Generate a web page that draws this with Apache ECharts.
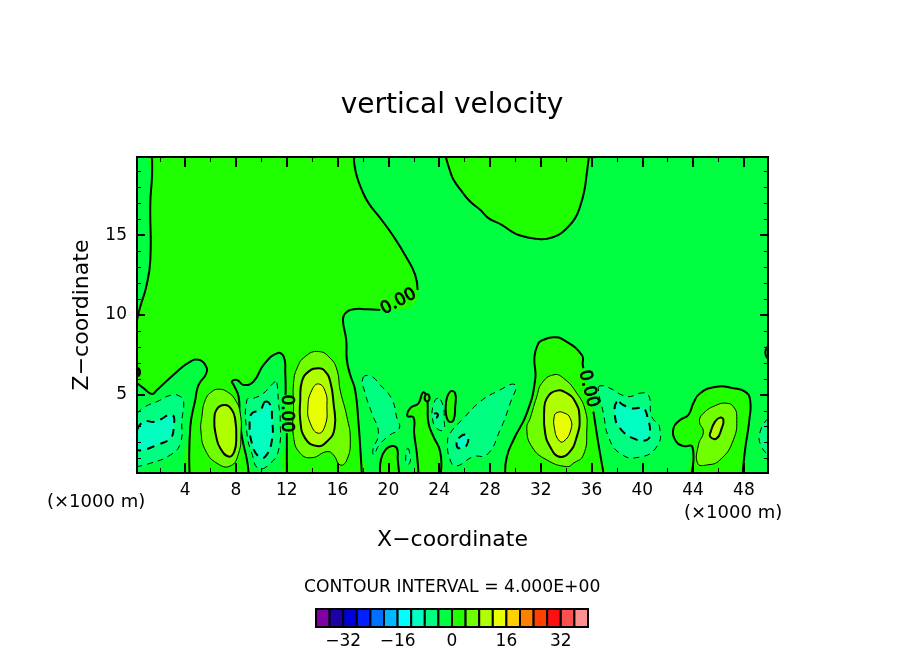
<!DOCTYPE html>
<html>
<head>
<meta charset="utf-8">
<title>vertical velocity</title>
<script src="https://cdn.jsdelivr.net/npm/echarts@6/dist/echarts.min.js"></script>
<style>
  html, body { margin: 0; padding: 0; background: #fff; }
  #chart { width: 904px; height: 654px; }
</style>
</head>
<body>
<div id="chart"></div>
<script>
// tick values and labels
const xMajorTicks = [4, 8, 12, 16, 20, 24, 28, 32, 36, 40, 44, 48];
const xMinorTicks = [2, 6, 10, 14, 18, 22, 26, 30, 34, 38, 42, 46];
const zMajorTicks = [5, 10, 15];
const zMinorTicks = [1, 2, 3, 4, 6, 7, 8, 9, 11, 12, 13, 14, 16, 17, 18, 19];
const barTicks = [-32, -16, 0, 16, 32];

// colour bar: lower bound of each band and its colour
const bandStarts = [-40, -36, -32, -28, -24, -20, -16, -12, -8, -4, 0, 4, 8, 12, 16, 20, 24, 28, 32, 36];
const bandColors = ['#8000a8', '#1c00a8', '#0000d8', '#0020ff', '#0070ff', '#00b8ff', '#00ffff', '#00ffc0',
  '#00ff80', '#00ff40', '#20ff00', '#70ff00', '#b0ff00', '#e8ff00', '#ffd000', '#ff8000', '#ff4000', '#ff1010',
  '#ff5050', '#ff9090'];

// contours as [x, z]; null = pen up, trailing null = open line
const zeroLeft = [[1.38, 19.9], [1.38, 18.68], [1.25, 17.01], [1.25, 13.45], [0.93, 11.78], [0.46, 10.53], [0.2, 9.69], null,
  [0.2, 5.74], [0.72, 5.41], [1.38, 5.05], [1.77, 5.3], [3.35, 6.45], [4.4, 7.08], [5.05, 7.19], [5.58, 6.87], [5.66, 6.35],
  [5.05, 5.62], [4.79, 4.68], [4.4, 3.01], [4.34, 0.1], null,
  [8.99, 0.1], [8.86, 0.92], [8.46, 2.38], [8.28, 3.63], [8.2, 4.89], [7.81, 5.62], [7.68, 5.83], [8.07, 5.93], [8.6, 5.62],
  [9.38, 5.83], [10.17, 6.87], [11.22, 7.6], [11.75, 7.4], [11.88, 6.35], [11.9, 5.0], null,
  [12.0, 2.6], [12.0, 0.1], null,
  [17.91, 0.1], [17.78, 1.75], [17.65, 3.2], [17.38, 5.3], [16.99, 6.25], [16.73, 7.19], [16.68, 8.44], [16.42, 9.69],
  [16.6, 10.1], [17.26, 10.36], [18.31, 10.36], [19.36, 10.32], null,
  [20.67, 10.36], null, [21.98, 10.63], null,
  [22.3, 11.57], [22.11, 12.51], [21.46, 13.56], [20.41, 14.92], [19.36, 16.07], [18.44, 17.01], [17.91, 17.84], [17.52, 18.68],
  [17.31, 19.51], [17.31, 19.9], null];
const zeroTop = [[24.52, 19.9], [24.87, 18.99], [25.13, 18.47], [25.78, 17.74], [26.44, 17.11], [27.23, 16.59], [27.88, 16.07],
  [28.93, 15.65], [29.72, 15.23], [30.38, 14.98], [31.69, 14.77], [32.48, 14.77], [33.4, 15.02], [34.05, 15.44], [34.71, 16.07],
  [35.1, 16.8], [35.42, 17.74], [35.63, 18.89], [35.79, 19.9], null];
const zeroArch = [[19.35, 0.1], [19.41, 0.92], [19.75, 1.54], [20.27, 1.79], [20.67, 1.65], [20.74, 0.92], [20.85, 0.1], null];
const zeroPillar = [[22.37, 0.1], [22.24, 1.33], [22.03, 2.59], [21.98, 3.59], [21.5, 3.67], [21.72, 4.16], [22.37, 4.47],
  [22.71, 5.14], [22.98, 4.99], [23.08, 4.57], [23.16, 3.22], [23.55, 2.38], [24.08, 1.44], [24.13, 0.1], null];
const zeroPillarTip = [[22.92, 4.99], [23.18, 4.99], [23.18, 4.64], [22.92, 4.64]];
const zeroHill33 = [[29.2, 0.1], [29.33, 1.12], [29.85, 2.17], [30.9, 3.84], [31.56, 5.93], [31.51, 7.4], [31.82, 8.23], [32.08, 8.4],
  [33.0, 8.6], [33.79, 8.44], [35.23, 7.5], [35.31, 6.87], [35.36, 6.66], null,
  [36.15, 3.95], [36.41, 2.59], [36.67, 1.33], [36.94, 0.1], null];
const zeroHill46 = [[43.89, 0.1], [43.94, 1.75], [43.24, 1.79], [42.66, 2.07], [42.45, 2.9], [42.97, 3.42], [43.63, 3.74], [44.02, 4.47],
  [44.55, 5.1], [45.86, 5.51], [47.17, 5.41], [48.09, 5.2], [48.49, 4.68], [48.43, 3.42], [48.09, 1.54], [47.91, 0.1], null];
const zeroSliver = [[24.87, 5.2], [25.26, 5.1], [25.26, 4.26], [25.13, 3.42], [24.79, 3.32], [24.55, 3.74], [24.55, 4.57]];
const zeroEdgeLeft = [[0.3, 6.66], [0.42, 6.5], [0.42, 6.3], [0.3, 6.2]];
const zeroEdgeRight = [[49.9, 8.0], [49.72, 7.8], [49.72, 7.5], [49.9, 7.3]];

const pos4x7 = [[6.63, 5.35], [6.1, 5.2], [5.58, 4.68], [5.31, 3.63], [5.24, 2.69], [5.58, 1.54], [6.5, 0.71], [7.55, 0.54], [8.2, 1.33],
  [8.39, 2.59], [8.33, 3.84], [7.94, 4.68], [7.28, 5.2]];
const pos8x7 = [[7.15, 4.36], [6.55, 4.16], [6.29, 3.42], [6.44, 2.38], [6.76, 1.65], [7.41, 1.13], [7.86, 1.44], [8.02, 2.38], [7.94, 3.42], [7.68, 4.05]];
const pos4x14 = [[14.5, 7.71], [13.45, 7.4], [12.8, 6.66], [12.53, 5.72], [12.53, 4.26], [12.53, 2.38], [13.06, 1.33], [13.98, 1.06], [15.16, 1.44],
  [15.68, 1.23], [16.2, 0.6], [16.73, 0.92], [17.0, 2.17], [16.73, 3.63], [16.2, 5.3], [15.95, 6.56], [15.42, 7.29]];
const pos8x14 = [[14.5, 6.66], [13.71, 6.45], [13.19, 5.83], [13.06, 4.68], [13.06, 3.42], [13.45, 2.27], [14.37, 1.79], [15.16, 2.07], [15.76, 2.9],
  [15.68, 4.47], [15.42, 5.83], [15.03, 6.45]];
const pos12x14 = [[14.5, 5.68], [13.98, 5.3], [13.66, 4.26], [13.85, 3.22], [14.5, 2.59], [15.03, 3.11], [15.16, 4.26], [15.03, 5.2]];
const pos4x33 = [[33.0, 6.25], [32.08, 5.72], [31.69, 4.89], [31.17, 3.53], [30.9, 2.9], [31.3, 1.75], [32.48, 0.92], [34.05, 0.5], [34.57, 0.71],
  [35.36, 1.23], [35.63, 2.8], [35.5, 4.05], [34.84, 5.1], [33.79, 6.04]];
const pos8x33 = [[33.27, 5.26], [32.48, 4.78], [32.27, 3.95], [32.35, 2.59], [32.74, 1.75], [33.4, 1.13], [34.18, 1.33], [34.84, 2.38], [35.05, 3.63],
  [34.71, 4.57], [34.05, 5.1]];
const pos12x33 = [[33.27, 3.88], [33.79, 3.88], [34.32, 3.53], [34.37, 2.8], [33.79, 2.07], [33.4, 2.17], [33.08, 2.9], [33.06, 3.63]];
const pos4x46 = [[46.65, 4.47], [45.86, 4.36], [44.81, 3.84], [44.5, 3.32], [44.81, 2.69], [44.42, 1.86], [44.36, 0.71], [45.07, 0.6], [46.12, 0.92],
  [47.17, 2.17], [47.44, 3.63], [47.17, 4.26]];
const pos8x46 = [[46.12, 3.57], [45.73, 3.32], [45.39, 2.69], [45.34, 2.38], [45.86, 2.27], [46.25, 2.9], [46.39, 3.42]];

const neg4x2 = [[0.2, 3.84], [0.85, 4.26], [1.77, 4.57], [2.95, 4.99], [3.61, 4.89], [3.87, 4.57], [3.74, 3.42], [3.61, 1.96], [2.82, 1.23], [1.25, 0.71], [0.2, 0.5], null];
const neg8x2 = [[0.2, 2.8], [0.72, 3.32], [1.64, 3.32], [2.95, 3.74], [3.08, 2.9], [2.82, 2.27], [1.77, 1.86], [0.72, 1.54], [0.2, 1.54], null];
const neg4x10 = [[11.09, 5.83], [10.17, 5.1], [9.38, 4.78], [8.86, 4.68], [8.86, 2.59], [9.25, 1.33], [9.78, 0.39], [10.7, 0.71], [11.35, 1.54],
  [11.48, 3.42], [11.35, 4.47], [11.22, 5.72]];
const neg8x10 = [[10.3, 4.57], [9.91, 4.05], [9.25, 3.84], [9.07, 3.22], [9.25, 1.96], [9.78, 1.13], [10.3, 1.13], [10.83, 2.17], [10.83, 3.63], [10.7, 4.36]];
const neg4x19 = [[17.99, 6.04], [18.57, 6.18], [19.35, 5.62], [20.27, 4.72], [20.67, 3.53], [20.85, 2.9], [20.01, 2.42], [19.22, 1.79], [18.88, 1.23],
  [18.78, 1.54], [19.22, 2.59], [18.7, 3.84], [18.17, 5.1]];
const neg4x21 = [[21.53, 1.65], [21.72, 1.13], [21.66, 0.71], [21.45, 0.67], [21.37, 1.13]];
const neg4x24 = [[23.89, 4.78], [23.55, 4.36], [23.47, 3.53], [23.82, 2.9], [24.34, 2.8], [24.39, 3.42], [24.29, 4.36]];
const neg8x24 = [[23.61, 3.8], [23.87, 3.8], [23.82, 3.59], [23.61, 3.59]];
const neg4x27 = [[29.98, 5.62], [28.54, 5.2], [27.23, 4.57], [25.92, 3.53], [24.87, 2.59], [24.66, 1.96], [24.87, 0.92], [25.34, 0.54], [26.7, 1.13],
  [27.75, 1.23], [28.8, 2.8], [29.59, 4.47]];
const neg8x26 = [[25.52, 2.27], [26.18, 2.48], [26.18, 1.86], [25.65, 1.65], [25.39, 1.79]];
const neg4x39 = [[36.67, 5.56], [36.54, 5.3], [36.94, 3.84], [37.33, 2.38], [38.25, 1.33], [39.69, 1.08], [41.14, 1.75], [41.35, 3.0], [40.74, 3.63],
  [40.48, 4.99], [39.82, 5.1], [39.04, 4.89], [38.38, 4.99], [37.46, 5.41]];
const neg8x39 = [[37.99, 4.57], [37.85, 3.63], [38.25, 2.9], [39.3, 2.27], [40.35, 2.17], [40.61, 2.59], [40.4, 3.63], [40.09, 4.16], [39.56, 4.16],
  [39.04, 4.16], [38.51, 4.36]];
const neg4x49 = [[49.9, 3.53], [49.33, 2.8], [49.27, 1.96], [49.9, 1.23], null];

// painted in this order, [level, points]
const contours = [
  [0, zeroLeft], [0, zeroTop], [0, zeroArch], [0, zeroPillar], [0, zeroPillarTip], [0, zeroHill33], [0, zeroHill46],
  [0, zeroSliver], [0, zeroEdgeLeft], [0, zeroEdgeRight],
  [4, pos4x7], [8, pos8x7], [4, pos4x14], [8, pos8x14], [12, pos12x14], [4, pos4x33], [8, pos8x33], [12, pos12x33], [4, pos4x46], [8, pos8x46],
  [-4, neg4x2], [-8, neg8x2], [-4, neg4x10], [-8, neg8x10], [-4, neg4x19], [-4, neg4x21], [-4, neg4x24], [-8, neg8x24], [-4, neg4x27], [-8, neg8x26],
  [-4, neg4x39], [-8, neg8x39], [-4, neg4x49]
];

// contour labels on the zero line: x, z, angle in degrees
const zeroLabelX = [20.8, 11.98, 35.75];
const zeroLabelZ = [10.84, 3.84, 5.37];
const zeroLabelAngle = [28, -90, -76];

const chart = echarts.init(document.getElementById('chart'), null, { renderer: 'canvas' });
const FONT = '"DejaVu Sans"';

function levelColor(level) {
  const start = level >= 0 ? level : level - 4;
  return bandColors[bandStarts.indexOf(start)];
}

function renderContour(params, api) {
  const level = contours[params.dataIndex][0];
  const pts = contours[params.dataIndex][1];
  const lineWidth = level % 8 === 0 ? 2 : 1;
  const lineDash = level < 0 ? (lineWidth === 2 ? [8, 6] : [6, 5]) : null;
  const smooth = 0.5;
  const all = pts.filter(Boolean).map(p => api.coord(p));
  // closed contour
  if (pts.indexOf(null) < 0) {
    return {
      type: 'polygon',
      shape: { points: all, smooth: smooth },
      style: { fill: levelColor(level), stroke: '#000', lineWidth: lineWidth, lineDash: lineDash }
    };
  }
  const children = [{ type: 'polygon', shape: { points: all, smooth: smooth }, style: { fill: levelColor(level) } }];
  let run = [];
  pts.forEach(p => {
    if (p) {
      run.push(api.coord(p));
    } else {
      if (run.length > 1) {
        children.push({
          type: 'polyline',
          shape: { points: run, smooth: smooth },
          style: { fill: null, stroke: '#000', lineWidth: lineWidth, lineDash: lineDash }
        });
      }
      run = [];
    }
  });
  return { type: 'group', children: children };
}

function renderZeroLabel(params, api) {
  const pos = api.coord([api.value(0), api.value(1)]);
  return {
    type: 'text',
    x: pos[0],
    y: pos[1],
    rotation: api.value(2) * Math.PI / 180,
    style: {
      text: '0.00',
      fill: '#000',
      stroke: '#000',
      lineWidth: 0.8,
      font: '17px ' + FONT,
      align: 'center',
      verticalAlign: 'middle'
    }
  };
}

function renderBand(params, api) {
  const start = api.value(0);
  const a = api.coord([start, 1]);
  const b = api.coord([start + 4, 0]);
  return {
    type: 'rect',
    shape: { x: a[0], y: a[1], width: b[0] - a[0], height: b[1] - a[1] },
    style: { fill: bandColors[params.dataIndex], stroke: '#000', lineWidth: 2 }
  };
}

const tickLabelStyle = { color: '#000', fontFamily: FONT, fontSize: 17 };
const nameStyle = { color: '#000', fontFamily: FONT, fontSize: 22 };

function xSide(position, ticks, len, width, extra) {
  return Object.assign({
    type: 'value', gridIndex: 0, position: position, min: 0.2, max: 49.9,
    axisLine: { show: true, onZero: false, lineStyle: { color: '#000', width: 2 } },
    axisTick: { show: true, inside: true, length: len, customValues: ticks, lineStyle: { color: '#000', width: width } },
    axisLabel: { show: false },
    splitLine: { show: false },
    z: 10
  }, extra);
}

function zSide(position, ticks, len, width, extra) {
  return Object.assign({
    type: 'value', gridIndex: 0, position: position, min: 0.1, max: 19.9,
    axisLine: { show: true, onZero: false, lineStyle: { color: '#000', width: 2 } },
    axisTick: { show: true, inside: true, length: len, customValues: ticks, lineStyle: { color: '#000', width: width } },
    axisLabel: { show: false },
    splitLine: { show: false },
    z: 10
  }, extra);
}

const option = {
  backgroundColor: '#fff',
  animation: false,
  title: {
    text: 'vertical velocity',
    left: 'center',
    top: 87,
    textStyle: { color: '#000', fontFamily: FONT, fontSize: 28, fontWeight: 'normal' }
  },
  grid: [
    { left: 137, top: 157, width: 631, height: 316, backgroundColor: bandColors[9], show: true, borderWidth: 0 },
    { left: 316, top: 609, width: 272, height: 18 }
  ],
  xAxis: [
    xSide('bottom', xMajorTicks, 10, 2, {
      name: 'X\u2212coordinate',
      nameLocation: 'middle',
      nameGap: 56,
      nameTextStyle: nameStyle,
      axisLabel: Object.assign({ show: true, margin: 9, customValues: xMajorTicks }, tickLabelStyle)
    }),
    xSide('bottom', xMinorTicks, 5, 1),
    xSide('top', xMajorTicks, 10, 2),
    xSide('top', xMinorTicks, 5, 1),
    {
      type: 'value', gridIndex: 1, min: -40, max: 40,
      axisLine: { show: false },
      axisTick: { show: false },
      splitLine: { show: false },
      axisLabel: Object.assign({
        margin: 6,
        customValues: barTicks,
        formatter: v => String(v).replace('-', '\u2212')
      }, tickLabelStyle)
    }
  ],
  yAxis: [
    zSide('left', zMajorTicks, 8, 2, {
      name: 'Z\u2212coordinate',
      nameLocation: 'middle',
      nameGap: 44,
      nameTextStyle: nameStyle,
      axisLabel: Object.assign({ show: true, margin: 10, customValues: zMajorTicks, padding: [4, 0, 0, 0] }, tickLabelStyle)
    }),
    zSide('left', zMinorTicks, 4, 1),
    zSide('right', zMajorTicks, 8, 2),
    zSide('right', zMinorTicks, 4, 1),
    { type: 'value', gridIndex: 1, min: 0, max: 1, show: false }
  ],
  graphic: [
    { type: 'text', left: 47, top: 493, style: { text: '(\u00d71000 m)', fill: '#000', font: '18px ' + FONT } },
    { type: 'text', left: 684, top: 504, style: { text: '(\u00d71000 m)', fill: '#000', font: '18px ' + FONT } },
    { type: 'text', left: 304, top: 579, style: { text: 'CONTOUR INTERVAL = 4.000E+00', fill: '#000', font: '17.2px ' + FONT } }
  ],
  series: [
    {
      type: 'custom',
      coordinateSystem: 'cartesian2d',
      xAxisIndex: 0,
      yAxisIndex: 0,
      clip: true,
      z: 2,
      renderItem: renderContour,
      data: contours.map((c, i) => [i])
    },
    {
      type: 'custom',
      coordinateSystem: 'cartesian2d',
      xAxisIndex: 0,
      yAxisIndex: 0,
      z: 3,
      renderItem: renderZeroLabel,
      data: zeroLabelX.map((x, i) => [x, zeroLabelZ[i], zeroLabelAngle[i]])
    },
    {
      type: 'custom',
      coordinateSystem: 'cartesian2d',
      xAxisIndex: 4,
      yAxisIndex: 4,
      renderItem: renderBand,
      data: bandStarts.map(s => [s])
    }
  ]
};

chart.setOption(option);
</script>
</body>
</html>
